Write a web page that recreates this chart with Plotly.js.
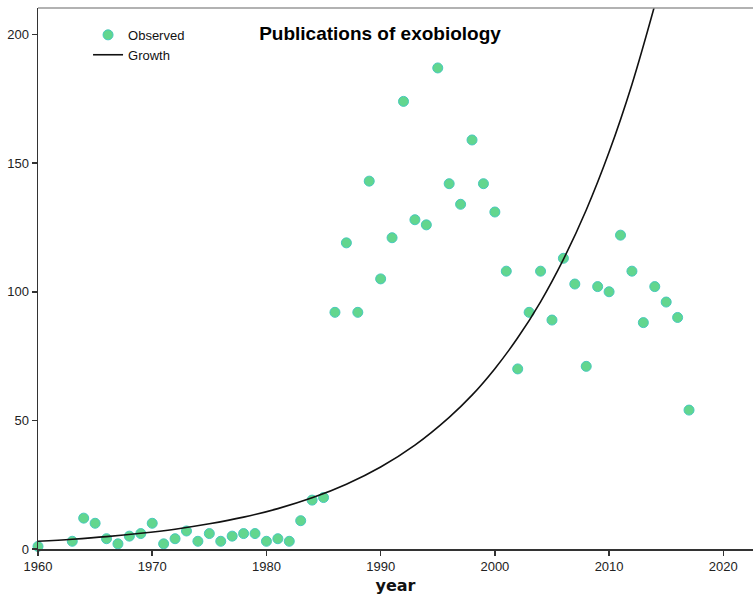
<!DOCTYPE html>
<html>
<head>
<meta charset="utf-8">
<script src="https://cdn.plot.ly/plotly-3.0.1.min.js"></script>
<style>html,body{margin:0;padding:0;background:#fff;}#chart{width:753px;height:596px;}</style>
</head>
<body>
<div id="chart"></div>
<script>
// Observed publications per year
var years = [1960,1963,1964,1965,1966,1967,1968,1969,1970,1971,1972,1973,1974,1975,1976,1977,1978,1979,1980,1981,1982,1983,1984,1985,1986,1987,1988,1989,1990,1991,1992,1993,1994,1995,1996,1997,1998,1999,2000,2001,2002,2003,2004,2005,2006,2007,2008,2009,2010,2011,2012,2013,2014,2015,2016,2017];
var observed = [1,3,12,10,4,2,5,6,10,2,4,7,3,6,3,5,6,6,3,4,3,11,19,20,92,119,92,143,105,121,174,128,126,187,142,134,159,142,131,108,70,92,108,89,113,103,71,102,100,122,108,88,102,96,90,54];

// Growth curve
var growthYears = [1960,1963,1966,1969,1972,1975,1978,1981,1984,1987,1990,1993,1996,1998,2000,2002,2004,2006,2008,2010,2012,2014];
var growthValues = [3.0,3.8,4.8,6.1,7.7,9.8,12.4,15.7,19.9,25.2,31.9,40.4,51.2,59.8,70.1,82.1,96.1,112.6,131.8,154.3,180.6,211.4];

var tickVals = [1960,1970,1980,1990,2000,2010,2020];
var yTickVals = [0,50,100,150,200];

var traces = [
  {
    x: years, y: observed, type: 'scatter', mode: 'markers', name: 'Observed',
    cliponaxis: false,
    marker: {size: 10, color: '#62d68e', line: {color: '#47c9bd', width: 1}}
  },
  {
    x: growthYears, y: growthValues, type: 'scatter', mode: 'lines', name: 'Growth',
    line: {color: '#111111', width: 1.6, shape: 'spline', smoothing: 1}
  }
];

var axisFont = {family: 'Liberation Sans, Arial, sans-serif', size: 13, color: '#222'};

var layout = {
  width: 753, height: 596,
  margin: {l: 38, r: 0, t: 8, b: 47, pad: 0},
  paper_bgcolor: '#fff', plot_bgcolor: '#fff',
  showlegend: true,
  legend: {
    x: 0.07, y: 0.978, xanchor: 'left', yanchor: 'top',
    bgcolor: 'rgba(0,0,0,0)', borderwidth: 0,
    font: {family: 'Liberation Sans, Arial, sans-serif', size: 13, color: '#111'},
    itemwidth: 30, tracegroupgap: 0
  },
  title: {
    text: '<b>Publications of exobiology</b>',
    font: {family: 'Liberation Sans, Arial, sans-serif', size: 19, color: '#000'},
    xref: 'container', yref: 'container', x: 380/753, y: 1 - 33/596,
    xanchor: 'center', yanchor: 'middle'
  },
  xaxis: {
    range: [1960, 2022.6], tickvals: tickVals, ticktext: tickVals.map(String),
    showgrid: false, zeroline: false,
    showline: true, linecolor: '#333', linewidth: 1.5,
    ticks: 'outside', ticklen: 5, tickcolor: '#333', tickwidth: 1.5,
    tickfont: axisFont,
    title: {text: '<b>year</b>', font: {family: 'DejaVu Sans, sans-serif', size: 16, color: '#111'}, standoff: 6}
  },
  yaxis: {
    range: [0, 210.3], tickvals: yTickVals, ticktext: yTickVals.map(String),
    showgrid: false, zeroline: false,
    showline: true, linecolor: '#333', linewidth: 1.5,
    ticks: 'outside', ticklen: 5, tickcolor: '#333', tickwidth: 1.5,
    tickfont: axisFont
  },
  shapes: [
    {type: 'line', xref: 'paper', yref: 'paper', x0: 0, x1: 1, y0: 1, y1: 1,
     line: {color: '#999', width: 1.5}}
  ]
};

Plotly.newPlot('chart', traces, layout, {displayModeBar: false, staticPlot: true});
</script>
</body>
</html>
